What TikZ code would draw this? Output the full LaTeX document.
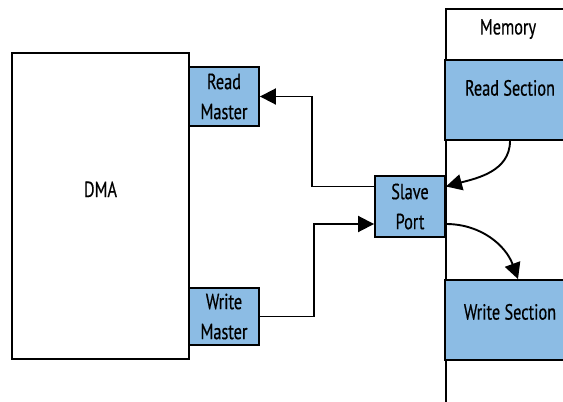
\documentclass[tikz,border=0pt]{standalone}
\usepackage{fontspec}
\setmainfont{PT Sans}[FakeStretch=0.74, FakeBold=0.4]
\usepackage{xcolor}
\usetikzlibrary{positioning, arrows.meta}
\definecolor{secblue}{RGB}{140,188,228}

\begin{document}
\begin{tikzpicture}[x=0.5pt, y=-0.5pt,
    font=\fontsize{11}{15}\selectfont,
    box/.style={draw, line width=0.95pt, inner sep=0pt, align=center},
    port/.style={box, fill=secblue, minimum width=35pt},
    sect/.style={box, fill=secblue, minimum width=65pt, minimum height=40pt, text height=7pt},
    arr/.style={-{Triangle[length=8pt, width=8pt]}, line width=0.95pt}
  ]
  \clip (0,0) rectangle (563,402);

  % DMA side
  \node[box, minimum width=88.5pt, minimum height=153pt,
        text height=7pt, text depth=16pt] (dma) at (100.5,206) {DMA};
  \node[port, minimum height=29.5pt] (rdm) at (224,96.5) {Read\\Master};
  \node[port, minimum height=28.5pt] (wrm) at (224,316.5) {Write\\Master};
  \node[port, minimum height=30.5pt] (slave) at (410,206.5) {Slave\\Port};

  % memory column
  \node[box, anchor=north west, minimum width=65pt, minimum height=201pt] (mem) at (445,8) {};
  \node[anchor=north, yshift=-2pt] (memtxt) at (508,8) {Memory};
  \node[sect, text depth=11.4pt] (rds) at (510,100) {Read Section};
  \node[sect, text depth=7.4pt] (wrs) at (510,320) {Write Section};

  \draw[arr] ([yshift=10pt]slave.west) -- ++(-62,0) |- (rdm.east);
  \draw[arr] (wrm.east) -- ++(54,0) |- ([yshift=-8.75pt]slave.west);
  \draw[arr] (rds.south) to[out=-90, in=15] ([yshift=10pt]slave.east);
  \draw[arr] ([yshift=-8.75pt]slave.east) to[out=0, in=110] ([xshift=4pt]wrs.north);
\end{tikzpicture}
\end{document}
